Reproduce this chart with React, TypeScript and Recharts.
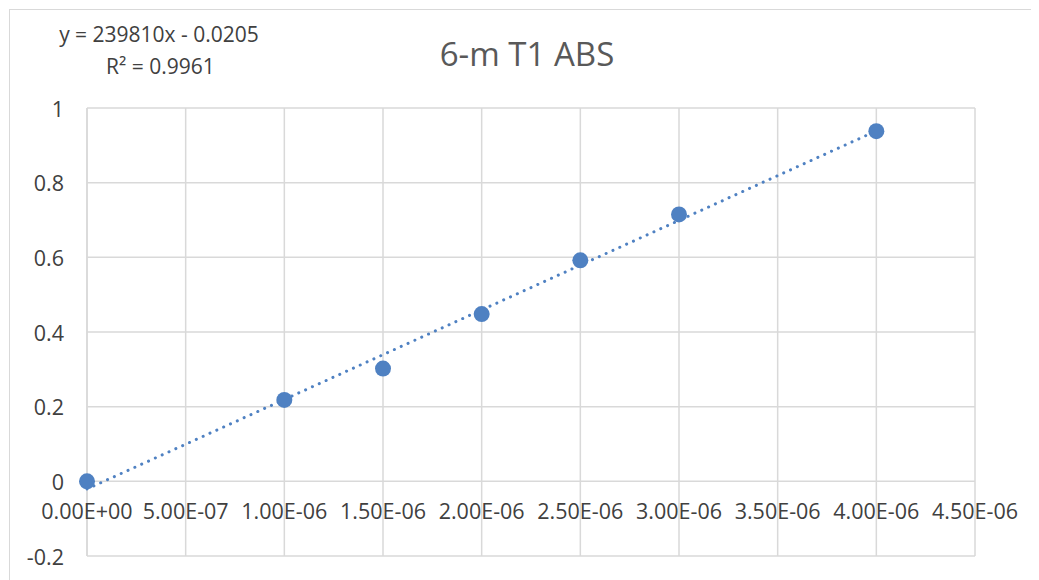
import { ScatterChart, Scatter, XAxis, YAxis, CartesianGrid } from 'recharts';

const concentrations = [0, 1e-6, 1.5e-6, 2e-6, 2.5e-6, 3e-6, 4e-6];
const absorbance = [0, 0.218, 0.302, 0.448, 0.592, 0.715, 0.938];

// trendline end points (y = 239810x - 0.0205)
const trendX = [0, 4e-6];
const trendY = [-0.0205, 0.9387];

const xTicks = [0, 5e-7, 1e-6, 1.5e-6, 2e-6, 2.5e-6, 3e-6, 3.5e-6, 4e-6, 4.5e-6];
const xTickLabels = ['0.00E+00', '5.00E-07', '1.00E-06', '1.50E-06', '2.00E-06', '2.50E-06', '3.00E-06', '3.50E-06', '4.00E-06', '4.50E-06'];
const yTicks = [-0.2, 0, 0.2, 0.4, 0.6, 0.8, 1];
const yTickLabels = ['-0.2', '0', '0.2', '0.4', '0.6', '0.8', '1'];

const points = concentrations.map((x, i) => ({ x, y: absorbance[i] }));
const trend = trendX.map((x, i) => ({ x, y: trendY[i] }));

const FONT = '"Open Sans", "Noto Sans", sans-serif';
const TXT = '#404040';
const GRID = '#d9d9d9';
const BLUE = '#4f81c2';

const XTick = (props: any) => {
  const { x, y, payload } = props;
  const idx = xTicks.indexOf(payload.value);
  return (
    <text x={x} y={y - 54} textAnchor="middle" dominantBaseline="central" fontSize={21.5} fill={TXT} fontFamily={FONT}>
      {xTickLabels[idx]}
    </text>
  );
};

const YTick = (props: any) => {
  const { x, y, payload } = props;
  const idx = yTicks.indexOf(payload.value);
  return (
    <text x={x} y={y} textAnchor="end" dominantBaseline="central" fontSize={21.5} fill={TXT} fontFamily={FONT}>
      {yTickLabels[idx]}
    </text>
  );
};

export default function App() {
  return (
    <div style={{ position: 'relative', width: 1040, height: 580, borderTop: `1px solid ${GRID}`, borderLeft: `1px solid ${GRID}`, boxSizing: 'border-box', marginTop: 1, marginLeft: 1, fontFamily: FONT }}>
      <div style={{ position: 'absolute', left: 38, top: 8, fontSize: 21, color: TXT, width: 222, lineHeight: '32px' }}>
        <div style={{ textAlign: 'center' }}>y = 239810x - 0.0205</div>
        <div style={{ paddingLeft: 58 }}>R² = 0.9961</div>
      </div>
      <div style={{ position: 'absolute', left: 0, width: 1034, top: 21, textAlign: 'center', fontSize: 33, color: '#595959' }}>
        6-m T1 ABS
      </div>
      <ScatterChart width={1030} height={570} margin={{ top: 98, right: 65, bottom: 4, left: 17 }}>
        <CartesianGrid stroke={GRID} strokeWidth={1.5} />
        <XAxis
          type="number"
          dataKey="x"
          domain={[0, 4.5e-6]}
          ticks={xTicks}
          tick={<XTick />}
          tickLine={false}
          axisLine={false}
          height={20}
          interval={0}
        />
        <YAxis
          type="number"
          dataKey="y"
          domain={[-0.2, 1]}
          ticks={yTicks}
          tick={<YTick />}
          tickLine={false}
          axisLine={{ stroke: GRID, strokeWidth: 1.5 }}
          width={60}
          tickMargin={17}
          interval={0}
        />
        <Scatter
          data={trend}
          line={{ stroke: BLUE, strokeWidth: 3, strokeDasharray: '0.1 7.4', strokeLinecap: 'round' }}
          shape={() => <g />}
          isAnimationActive={false}
        />
        <Scatter
          data={points}
          fill={BLUE}
          shape={(p: any) => <circle cx={p.cx} cy={p.cy} r={8} fill={BLUE} />}
          isAnimationActive={false}
        />
      </ScatterChart>
    </div>
  );
}
